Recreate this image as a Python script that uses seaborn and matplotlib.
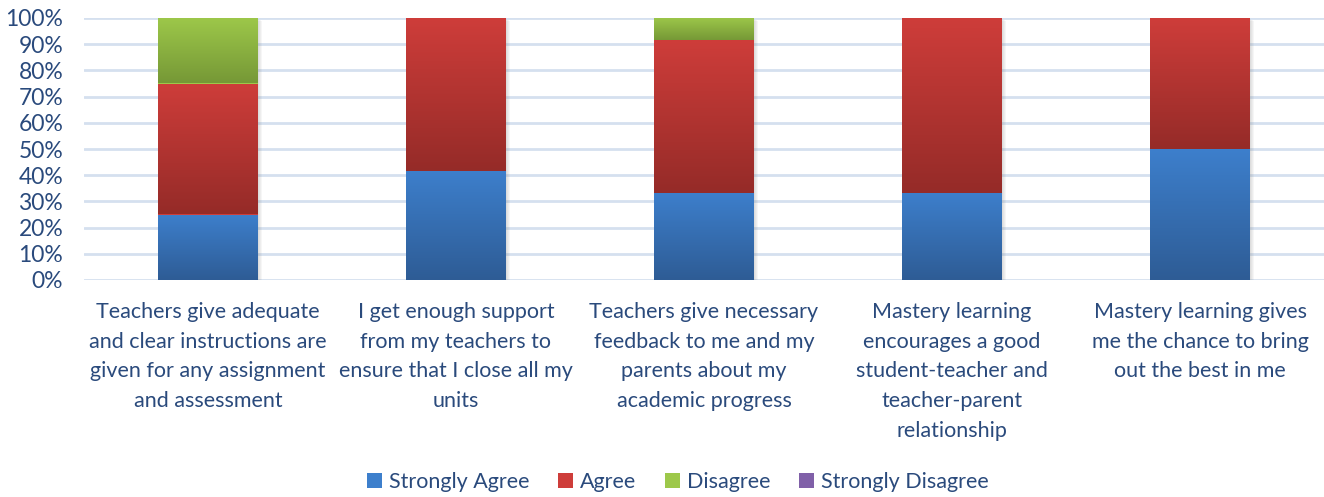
import numpy as np
import pandas as pd
import matplotlib
matplotlib.use("Agg")
import matplotlib.pyplot as plt
import matplotlib.transforms as mtransforms
from matplotlib.colors import LinearSegmentedColormap
from matplotlib.patches import Patch, Rectangle
from matplotlib.ticker import FuncFormatter
import seaborn as sns

# Survey statements (x categories)
statements = [
    "Teachers give adequate\nand clear instructions are\ngiven for any assignment\nand assessment",
    "I get enough support\nfrom my teachers to\nensure that I close all my\nunits",
    "Teachers give necessary\nfeedback to me and my\nparents about my\nacademic progress",
    "Mastery learning\nencourages a good\nstudent-teacher and\nteacher-parent\nrelationship",
    "Mastery learning gives\nme the chance to bring\nout the best in me",
]

# Share of responses per statement (percent)
strongly_agree = [25.0, 41.7, 33.3, 33.3, 50.0]
agree = [50.0, 58.3, 58.3, 66.7, 50.0]
disagree = [25.0, 0.0, 8.4, 0.0, 0.0]
strongly_disagree = [0.0, 0.0, 0.0, 0.0, 0.0]

series_names = ["Strongly Agree", "Agree", "Disagree", "Strongly Disagree"]
series_values = [strongly_agree, agree, disagree, strongly_disagree]

# (top colour, bottom colour) of each gradient fill
gradients = [
    ("#3D7FCC", "#2E5C95"),
    ("#CE3D3A", "#952B28"),
    ("#9DC84A", "#769836"),
    ("#8060A8", "#5E4482"),
]
text_color = "#2A4A7C"

df = pd.DataFrame({"statement": statements})
for name, vals in zip(series_names, series_values):
    df[name] = vals

sns.set_theme(style="white")
plt.rcParams["font.family"] = ["Lato", "DejaVu Sans"]

W, H = 1324, 497
fig = plt.figure(figsize=(W / 100, H / 100), dpi=100)
ax = fig.add_axes([84 / W, 1 - 280 / H, 1 - 84 / W, 262 / H])

bar_width = 0.403
bottom = np.zeros(len(statements))
segments = []
for name, (c_top, c_bot) in zip(series_names, gradients):
    n_before = len(ax.patches)
    sns.barplot(data=df, x="statement", y=name, bottom=bottom, color=c_top,
                width=bar_width, saturation=1, errorbar=None, ax=ax,
                zorder=3, linewidth=0)
    for p in ax.patches[n_before:]:
        p.set_antialiased(False)
        segments.append((p, c_top, c_bot))
    bottom = bottom + df[name].to_numpy()

# Vertical gradient inside every segment
grad = np.linspace(1, 0, 256).reshape(-1, 1)
for p, c_top, c_bot in segments:
    h = p.get_height()
    if h <= 0:
        continue
    x0, y0, w = p.get_x(), p.get_y(), p.get_width()
    cmap = LinearSegmentedColormap.from_list("g", [c_bot, c_top])
    im = ax.imshow(grad, extent=[x0, x0 + w, y0, y0 + h], cmap=cmap,
                   aspect="auto", origin="upper", zorder=3.2,
                   interpolation="bilinear")
    im.set_clip_path(p)

# Soft drop shadow to the lower right of each stacked bar
totals = {}
for p, _, _ in segments:
    key = round(p.get_x(), 4)
    top = p.get_y() + p.get_height()
    totals[key] = (p.get_width(), max(totals.get(key, (0, 0))[1], top))
for x0, (w, top) in totals.items():
    for k in range(1, 5):
        off = mtransforms.ScaledTranslation(k / 100, -k / 100 * 0.8, fig.dpi_scale_trans)
        ax.add_patch(Rectangle((x0, 0), w, top, transform=ax.transData + off,
                               facecolor="#808080", alpha=0.07, linewidth=0,
                               zorder=2.5))

ax.set_xlim(-0.5, len(statements) - 0.5)
ax.set_ylim(0, 100)
ax.set_yticks(np.arange(0, 101, 10))
ax.yaxis.set_major_formatter(FuncFormatter(lambda v, _: f"{v:.0f}%"))
ax.set_xlabel("")
ax.set_ylabel("")
ax.yaxis.grid(True, color="#D5E0EF", linewidth=2)
ax.xaxis.grid(False)
ax.set_axisbelow(True)
sns.despine(ax=ax, left=True, bottom=True)
ax.tick_params(axis="y", length=0, pad=15, labelsize=16.5, labelcolor=text_color)
ax.tick_params(axis="x", length=0, pad=16, labelsize=15.5, labelcolor=text_color)
for lbl in ax.get_xticklabels():
    lbl.set_linespacing(1.6)
    lbl.set_verticalalignment("top")

handles = [Patch(facecolor=c_top, edgecolor="none") for c_top, _ in gradients]
fig.legend(handles, series_names, loc="center", bbox_to_anchor=(0.512, 1 - 482 / H),
           ncol=4, frameon=False, handlelength=0.7, handleheight=0.7,
           handletextpad=0.35, columnspacing=1.3, fontsize=15.5,
           labelcolor=text_color)

fig.savefig("out.png", dpi=100)
